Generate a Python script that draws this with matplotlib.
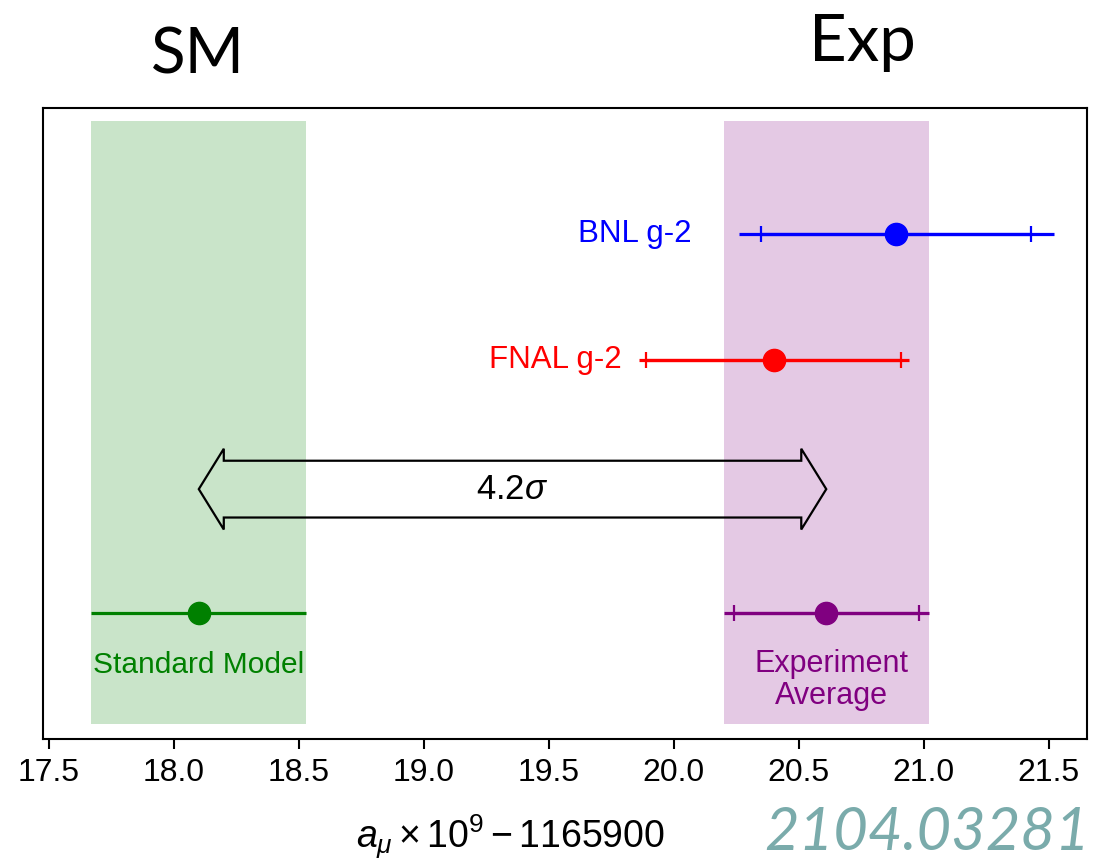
import numpy as np
import matplotlib.pyplot as plt
from matplotlib.patches import Polygon

plt.rcParams['font.family'] = ['Liberation Sans', 'DejaVu Sans']
plt.rcParams['mathtext.fontset'] = 'custom'
plt.rcParams['mathtext.rm'] = 'Liberation Sans'
plt.rcParams['mathtext.it'] = 'Liberation Sans:italic'

# a_mu x 10^9 - 1165900, errors
names = ['BNL g-2', 'FNAL g-2', 'Experiment\nAverage', 'Standard Model']
values = [20.89, 20.40, 20.61, 18.10]
total_err = [0.63, 0.54, 0.41, 0.43]
stat_err = [0.54, 0.51, 0.37, 0.0]
colors = ['blue', 'red', 'purple', 'green']
rows = [4, 3, 1, 1]
tension = '4.2'

fig = plt.figure(figsize=(10.93, 8.65), dpi=100)
ax = fig.add_axes([43.3 / 1093, 126 / 865, 1043.7 / 1093, 631 / 865])

# bands for SM and experiment average
for i in (2, 3):
    ax.axvspan(values[i] - total_err[i], values[i] + total_err[i],
               ymin=0.024, ymax=0.98, color=colors[i], alpha=0.21, lw=0)

# points with total error (line) and stat error (caps)
for v, te, se, c, r in zip(values, total_err, stat_err, colors, rows):
    ax.errorbar(v, r, xerr=te, fmt='o', color=c, ms=16, elinewidth=2.3, capsize=0)
    if se > 0:
        ax.errorbar(v, r, xerr=se, fmt='none', ecolor=c, elinewidth=2.3,
                    capsize=6, capthick=1.6)

# labels
ax.text(20.07, rows[0], names[0], color=colors[0], fontsize=22.5, ha='right', va='center')
ax.text(19.79, rows[1], names[1], color=colors[1], fontsize=22.5, ha='right', va='center')
ax.text(values[3], rows[3] - 0.41, names[3], color=colors[3], fontsize=21.5,
        ha='center', va='center')
ax.text(values[2] + 0.02, rows[2] - 0.29, names[2], color=colors[2], fontsize=22,
        ha='center', va='top', linespacing=1.05)

# double arrow between SM and experiment average
x0, x1 = values[3], values[2]
ya = 1.98
hl, sw, hw = 0.1, 0.225, 0.32
pts = [(x0, ya), (x0 + hl, ya + hw), (x0 + hl, ya + sw), (x1 - hl, ya + sw),
       (x1 - hl, ya + hw), (x1, ya), (x1 - hl, ya - hw), (x1 - hl, ya - sw),
       (x0 + hl, ya - sw), (x0 + hl, ya - hw)]
ax.add_patch(Polygon(pts, closed=True, fill=False, ec='black', lw=1.6, zorder=3))
ax.text((x0 + x1) / 2, ya, tension + r'$\sigma$', fontsize=25, ha='center', va='center')

ax.set_xlim(17.478, 21.653)
ax.set_ylim(0, 5)
ax.set_yticks([])
ax.set_xticks(np.arange(17.5, 21.51, 0.5))
ax.tick_params(axis='x', labelsize=23, length=7, width=1.5, pad=7)
for s in ax.spines.values():
    s.set_linewidth(1.5)

fig.text(510 / 1093, 1 - 848 / 865, r'$a_\mu \times 10^9 - 1165900$', fontsize=27,
         ha='center', va='baseline')
fig.text(1090 / 1093, 1 - 850 / 865, '2104.03281', fontsize=43, color='#7aabab',
         style='italic', family=['Lato', 'DejaVu Sans'], ha='right', va='baseline')
fig.text(198 / 1093, 1 - 74 / 865, 'SM', fontsize=46, family=['Lato', 'DejaVu Sans'],
         ha='center', va='baseline')
fig.text(862 / 1093, 1 - 61 / 865, 'Exp', fontsize=47, family=['Lato', 'DejaVu Sans'],
         ha='center', va='baseline')

fig.savefig('out.png', dpi=100)
